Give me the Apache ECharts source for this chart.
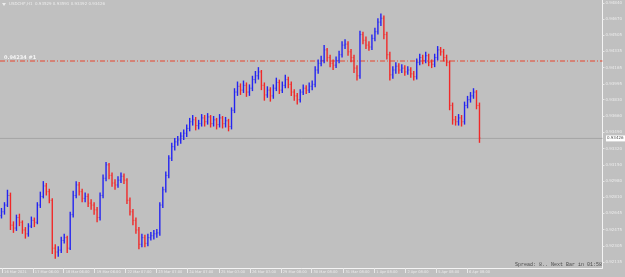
<!DOCTYPE html>
<html>
<head>
<meta charset="utf-8">
<script src="https://cdn.jsdelivr.net/npm/echarts@6/dist/echarts.min.js"></script>
<style>
  html, body { margin: 0; padding: 0; background: #c0c0c0; }
  #chart { width: 625px; height: 277px; }
</style>
</head>
<body>
<div id="chart"></div>
<script>
// USDCHF H1, 16 Mar - 6 Apr 2021 (one bar per ~2 hours)
const symbol = 'USDCHF,H1';
const headerOHLC = ['0.93529', '0.93591', '0.93392', '0.93426'];
const levelText = '0.94234 #1';
const spreadText = 'Spread: 8.. Next Bar in 01:58';

const dayLabels = ['16 Mar 2021', '17 Mar 06:00', '18 Mar 06:00', '19 Mar 06:00', '22 Mar 07:00',
  '23 Mar 07:00', '24 Mar 07:00', '25 Mar 07:00', '26 Mar 07:00', '29 Mar 08:00', '30 Mar 08:00',
  '31 Mar 08:00', '1 Apr 08:00', '2 Apr 08:00', '5 Apr 08:00', '6 Apr 08:00'];
// bar index where each day label sits
const dayStarts = [0.2, 10.5, 20.8, 31.2, 41.5, 51.8, 62.2, 72.8, 83.2, 93.5, 103.8, 114.5, 124.8, 135.2, 145.5, 155.8];

const priceTicks = [0.94840, 0.94670, 0.94505, 0.94335, 0.94165, 0.93995, 0.93830, 0.93660, 0.93490,
  0.93320, 0.93150, 0.92980, 0.92810, 0.92645, 0.92475, 0.92305, 0.92135];

const bidPrice = 0.93426;
const levelPrice = 0.94234;

const firstOpen = 0.9262;
const closes = [
  0.9266, 0.9273, 0.9283, 0.9252, 0.9249, 0.9260, 0.9255, 0.9247, 0.9243, 0.9251,
  0.9257, 0.9255, 0.9273, 0.9282, 0.9293, 0.9287, 0.9278, 0.9228, 0.9224, 0.9226,
  0.9236, 0.9239, 0.9228, 0.9263, 0.9283, 0.9294, 0.9287, 0.9280, 0.9282, 0.9275,
  0.9273, 0.9268, 0.9260, 0.9283, 0.9301, 0.9315, 0.9304, 0.9296, 0.9294, 0.9299,
  0.9303, 0.9299, 0.9278, 0.9266, 0.9257, 0.9247, 0.9232, 0.9239, 0.9233, 0.9239,
  0.9241, 0.9243, 0.9244, 0.9273, 0.9289, 0.9304, 0.9322, 0.9334, 0.9339, 0.9341,
  0.9345, 0.9348, 0.9353, 0.9360, 0.9362, 0.9356, 0.9358, 0.9364, 0.9360, 0.9365,
  0.9358, 0.9362, 0.9357, 0.9364, 0.9358, 0.9361, 0.9355, 0.9372, 0.9391, 0.9397,
  0.9393, 0.9398, 0.9391, 0.9395, 0.9404, 0.9408, 0.9412, 0.9398, 0.9388, 0.9393,
  0.9387, 0.9395, 0.9401, 0.9393, 0.9398, 0.9404, 0.9399, 0.9391, 0.9387, 0.9383,
  0.9391, 0.9395, 0.9393, 0.9397, 0.9399, 0.9414, 0.9421, 0.9424, 0.9435, 0.9427,
  0.9421, 0.9419, 0.9424, 0.9430, 0.9440, 0.9441, 0.9433, 0.9427, 0.9416, 0.9408,
  0.9451, 0.9445, 0.9440, 0.9438, 0.9447, 0.9454, 0.9464, 0.9468, 0.9451, 0.9430,
  0.9409, 0.9414, 0.9418, 0.9414, 0.9416, 0.9412, 0.9414, 0.9410, 0.9407, 0.9422,
  0.9427, 0.9424, 0.9429, 0.9422, 0.9420, 0.9427, 0.9435, 0.9433, 0.9427, 0.9422,
  0.9377, 0.9362, 0.9360, 0.9364, 0.9360, 0.9377, 0.9383, 0.9387, 0.9391, 0.9377,
  0.9343
];
const highs = [
  0.9270, 0.9276, 0.9289, 0.9286, 0.9256, 0.9263, 0.9264, 0.9257, 0.9250, 0.9254,
  0.9261, 0.9260, 0.9276, 0.9287, 0.9298, 0.9296, 0.9290, 0.9280, 0.9232, 0.9230,
  0.9240, 0.9243, 0.9241, 0.9266, 0.9288, 0.9298, 0.9297, 0.9290, 0.9286, 0.9285,
  0.9279, 0.9276, 0.9271, 0.9286, 0.9305, 0.9318, 0.9317, 0.9307, 0.9300, 0.9303,
  0.9307, 0.9306, 0.9301, 0.9281, 0.9269, 0.9260, 0.9250, 0.9243, 0.9242, 0.9243,
  0.9245, 0.9247, 0.9248, 0.9276, 0.9292, 0.9308, 0.9325, 0.9338, 0.9343, 0.9345,
  0.9349, 0.9352, 0.9357, 0.9364, 0.9367, 0.9365, 0.9362, 0.9368, 0.9367, 0.9369,
  0.9367, 0.9366, 0.9364, 0.9368, 0.9366, 0.9365, 0.9363, 0.9375, 0.9395, 0.9402,
  0.9400, 0.9403, 0.9401, 0.9399, 0.9408, 0.9413, 0.9417, 0.9414, 0.9401, 0.9397,
  0.9396, 0.9399, 0.9406, 0.9404, 0.9402, 0.9409, 0.9407, 0.9402, 0.9394, 0.9390,
  0.9394, 0.9399, 0.9398, 0.9401, 0.9403, 0.9418, 0.9425, 0.9429, 0.9440, 0.9437,
  0.9430, 0.9425, 0.9428, 0.9434, 0.9444, 0.9446, 0.9444, 0.9436, 0.9430, 0.9419,
  0.9455, 0.9454, 0.9449, 0.9444, 0.9451, 0.9458, 0.9468, 0.9473, 0.9471, 0.9454,
  0.9433, 0.9418, 0.9422, 0.9421, 0.9420, 0.9419, 0.9418, 0.9417, 0.9413, 0.9426,
  0.9431, 0.9430, 0.9433, 0.9431, 0.9425, 0.9431, 0.9439, 0.9438, 0.9436, 0.9430,
  0.9424, 0.9380, 0.9366, 0.9368, 0.9367, 0.9381, 0.9387, 0.9391, 0.9395, 0.9393,
  0.9380
];
const lows = [
  0.9259, 0.9263, 0.9271, 0.9247, 0.9244, 0.9246, 0.9251, 0.9243, 0.9238, 0.9240,
  0.9249, 0.9250, 0.9253, 0.9270, 0.9280, 0.9283, 0.9275, 0.9222, 0.9217, 0.9219,
  0.9223, 0.9233, 0.9223, 0.9226, 0.9260, 0.9280, 0.9283, 0.9276, 0.9276, 0.9271,
  0.9268, 0.9263, 0.9255, 0.9257, 0.9280, 0.9298, 0.9300, 0.9292, 0.9289, 0.9291,
  0.9296, 0.9295, 0.9274, 0.9262, 0.9252, 0.9243, 0.9227, 0.9229, 0.9229, 0.9230,
  0.9236, 0.9237, 0.9239, 0.9241, 0.9270, 0.9286, 0.9301, 0.9319, 0.9330, 0.9335,
  0.9337, 0.9341, 0.9344, 0.9350, 0.9356, 0.9351, 0.9352, 0.9355, 0.9355, 0.9357,
  0.9354, 0.9355, 0.9352, 0.9354, 0.9353, 0.9354, 0.9350, 0.9352, 0.9369, 0.9387,
  0.9388, 0.9390, 0.9386, 0.9387, 0.9392, 0.9400, 0.9404, 0.9393, 0.9382, 0.9385,
  0.9381, 0.9384, 0.9392, 0.9389, 0.9390, 0.9395, 0.9395, 0.9387, 0.9382, 0.9378,
  0.9380, 0.9388, 0.9389, 0.9390, 0.9393, 0.9396, 0.9410, 0.9418, 0.9421, 0.9423,
  0.9417, 0.9414, 0.9416, 0.9421, 0.9427, 0.9436, 0.9429, 0.9422, 0.9411, 0.9403,
  0.9405, 0.9441, 0.9436, 0.9434, 0.9435, 0.9444, 0.9451, 0.9460, 0.9446, 0.9425,
  0.9403, 0.9405, 0.9410, 0.9410, 0.9411, 0.9408, 0.9409, 0.9406, 0.9403, 0.9404,
  0.9419, 0.9420, 0.9421, 0.9418, 0.9416, 0.9417, 0.9424, 0.9429, 0.9423, 0.9418,
  0.9372, 0.9357, 0.9356, 0.9356, 0.9355, 0.9357, 0.9374, 0.9380, 0.9384, 0.9373,
  0.9338
];

// [index, open, close, low, high]
const bars = closes.map((c, i) => [i, i === 0 ? firstOpen : closes[i - 1], c, lows[i], highs[i]]);

const UP = '#2424f0';
const DOWN = '#f02828';
const FG = '#ececec';
const X_MIN = -0.5, X_MAX = 201.1667;

function renderBar(params, api) {
  const i = api.value(0);
  const o = api.value(1), c = api.value(2);
  const pHi = api.coord([i, api.value(4)]);
  const pLo = api.coord([i, api.value(3)]);
  const yO = api.coord([i, o])[1];
  const yC = api.coord([i, c])[1];
  const color = c >= o ? UP : DOWN;
  const x = pHi[0];
  return {
    type: 'group',
    children: [
      { type: 'line', shape: { x1: x, y1: pHi[1], x2: x, y2: pLo[1] }, style: { stroke: color, lineWidth: 1.4 } },
      { type: 'line', shape: { x1: x - 1.3, y1: yO, x2: x, y2: yO }, style: { stroke: color, lineWidth: 0.8, opacity: 0.6 } },
      { type: 'line', shape: { x1: x, y1: yC, x2: x + 1.3, y2: yC }, style: { stroke: color, lineWidth: 0.8, opacity: 0.6 } }
    ]
  };
}

const chart = echarts.init(document.getElementById('chart'));

const option = {
  backgroundColor: '#c0c0c0',
  animation: false,
  grid: { left: 0, right: 20, top: 0, bottom: 9 },
  xAxis: {
    type: 'value',
    min: X_MIN,
    max: X_MAX,
    axisLine: { show: true, onZero: false, lineStyle: { color: '#f4f4f4', width: 1 } },
    axisTick: { show: true, customValues: dayStarts, length: 5, lineStyle: { color: '#e8e8e8' } },
    axisLabel: {
      customValues: dayStarts,
      align: 'left',
      margin: 2,
      padding: [0, 0, 0, 2],
      color: FG,
      fontSize: 3.6,
      fontFamily: 'DejaVu Sans',
      formatter: function (v) {
        let best = 0;
        dayStarts.forEach((d, k) => { if (Math.abs(d - v) < Math.abs(dayStarts[best] - v)) best = k; });
        return dayLabels[best];
      }
    },
    splitLine: { show: false }
  },
  yAxis: {
    type: 'value',
    position: 'right',
    min: 0.92073,
    max: 0.94871,
    axisLine: { show: true, onZero: false, lineStyle: { color: '#f4f4f4', width: 1 } },
    axisTick: { show: true, customValues: priceTicks, length: 2, lineStyle: { color: '#e8e8e8' } },
    axisLabel: {
      customValues: priceTicks,
      margin: 3,
      color: FG,
      fontSize: 4,
      fontFamily: 'DejaVu Sans',
      formatter: v => v.toFixed(5)
    },
    splitLine: { show: false }
  },
  series: [
    {
      name: 'bid',
      type: 'line',
      silent: true,
      symbol: 'none',
      data: [[X_MIN, bidPrice], [X_MAX, bidPrice]],
      lineStyle: { color: '#a4a4a4', width: 1 },
      z: 1
    },
    {
      name: 'level',
      type: 'line',
      silent: true,
      symbol: 'none',
      data: [[X_MIN, levelPrice], [X_MAX, levelPrice]],
      lineStyle: { color: '#e8442c', width: 1, type: [5, 2, 1, 2] },
      z: 1
    },
    {
      type: 'custom',
      renderItem: renderBar,
      clip: true,
      encode: { x: 0, y: [1, 2, 3, 4] },
      data: bars,
      z: 2
    }
  ]
};
chart.setOption(option);

// texts and the price box
const yBid = chart.convertToPixel({ yAxisIndex: 0 }, bidPrice);
const yLevel = chart.convertToPixel({ yAxisIndex: 0 }, levelPrice);
chart.setOption({
  graphic: [
    { type: 'polygon', shape: { points: [[2, 3], [6, 3], [4, 6]] }, style: { fill: FG } },
    { type: 'text', left: 9, top: 2,
      style: { text: symbol + '  ' + headerOHLC.join(' '), fill: FG, font: '4px DejaVu Sans' } },
    { type: 'text', x: 4, y: yLevel - 6,
      style: { text: levelText, fill: '#f6f6f6', font: 'bold 5px DejaVu Sans' } },
    { type: 'rect', shape: { x: 606, y: yBid - 3, width: 19, height: 6 }, style: { fill: '#ffffff' } },
    { type: 'text', x: 607, y: yBid - 2.5,
      style: { text: bidPrice.toFixed(5), fill: '#505050', font: '4px DejaVu Sans' } },
    { type: 'text', x: 602, y: 262, style: { text: spreadText, fill: '#4a4a4a', font: '5px Liberation Mono', align: 'right' } }
  ]
});
</script>
</body>
</html>
